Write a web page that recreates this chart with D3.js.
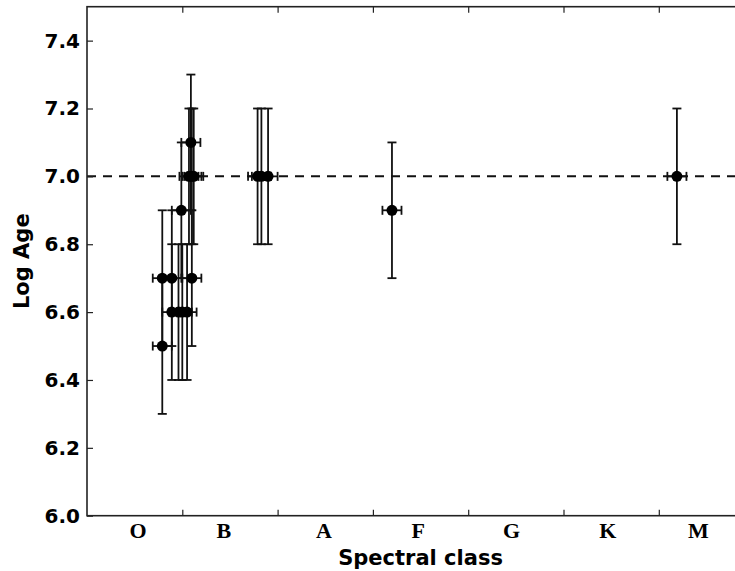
<!DOCTYPE html>
<html>
<head>
<meta charset="utf-8">
<script src="https://cdn.jsdelivr.net/npm/d3@7"></script>
<style>
  html, body { margin: 0; padding: 0; background: #fff; }
  svg { display: block; }
  .ytick text { font-family: "DejaVu Sans", sans-serif; font-weight: bold; font-size: 20px; }
  .xlab text { font-family: "Liberation Serif", "Times New Roman", serif; font-weight: bold; font-size: 22px; }
  .axis-title { font-family: "DejaVu Sans", sans-serif; font-weight: bold; font-size: 21px; }
</style>
</head>
<body>
<div id="chart"></div>
<script>
document.addEventListener('DOMContentLoaded', () => {
    const width = 735;
    const height = 571;

    // spectral classes and where their labels sit along the axis
    const classes = ["O", "B", "A", "F", "G", "K", "M"];
    const classLabelPos = [0.53, 1.43, 2.48, 3.47, 4.45, 5.46, 6.41];
    const classTicks = [1, 2, 3, 4, 5, 6];
    const yTicks = [6.0, 6.2, 6.4, 6.6, 6.8, 7.0, 7.2, 7.4];

    // star data: spectral position, log age and errors
    const specPos = [0.79, 0.79, 0.89, 1.10, 0.99, 0.89, 0.96, 1.00, 1.05, 1.09, 1.07, 1.10, 1.12, 1.79, 1.83, 1.90, 3.20, 6.19];
    const logAge  = [6.5,  6.7,  6.7,  6.7,  6.9,  6.6,  6.6,  6.6,  6.6,  7.1,  7.0,  7.0,  7.0,  7.0,  7.0,  7.0,  6.9,  7.0];
    const ageErr  = [0.2,  0.2,  0.2,  0.2,  0.2,  0.2,  0.2,  0.2,  0.2,  0.2,  0.2,  0.2,  0.2,  0.2,  0.2,  0.2,  0.2,  0.2];
    const specErr = [0.1,  0.1,  0.1,  0.1,  0.1,  0.1,  0.1,  0.1,  0.1,  0.1,  0.1,  0.1,  0.1,  0.1,  0.1,  0.1,  0.1,  0.1];
    const refAge = 7.0;

    const left = 87, top = 6.7, bottom = 515.7, right = 87 + 7 * 95.3;

    const svg = d3.select("#chart")
        .append("svg")
        .attr("width", width)
        .attr("height", height);

    const x = d3.scaleLinear().domain([0, 7]).range([left, right]);
    const y = d3.scaleLinear().domain([6.0, 7.5]).range([bottom, top]);

    const stars = specPos.map((p, i) => ({ x: p, y: logAge[i], ey: ageErr[i], ex: specErr[i] }));

    // reference line
    svg.append("line")
        .attr("x1", x(0)).attr("x2", x(7))
        .attr("y1", y(refAge)).attr("y2", y(refAge))
        .attr("stroke", "#111")
        .attr("stroke-width", 2)
        .attr("stroke-dasharray", "9,7");

    // error bars
    const eb = svg.append("g").attr("stroke", "#111").attr("stroke-width", 1.8);
    stars.forEach(d => {
        const cx = x(d.x), cy = y(d.y);
        const y1 = y(d.y + d.ey), y2 = y(d.y - d.ey);
        const x1 = x(d.x - d.ex), x2 = x(d.x + d.ex);
        eb.append("line").attr("x1", cx).attr("x2", cx).attr("y1", y1).attr("y2", y2);
        eb.append("line").attr("x1", cx - 4.5).attr("x2", cx + 4.5).attr("y1", y1).attr("y2", y1);
        eb.append("line").attr("x1", cx - 4.5).attr("x2", cx + 4.5).attr("y1", y2).attr("y2", y2);
        eb.append("line").attr("x1", x1).attr("x2", x2).attr("y1", cy).attr("y2", cy);
        eb.append("line").attr("x1", x1).attr("x2", x1).attr("y1", cy - 4.5).attr("y2", cy + 4.5);
        eb.append("line").attr("x1", x2).attr("x2", x2).attr("y1", cy - 4.5).attr("y2", cy + 4.5);
    });

    svg.append("g")
        .selectAll("circle")
        .data(stars)
        .enter().append("circle")
        .attr("cx", d => x(d.x))
        .attr("cy", d => y(d.y))
        .attr("r", 5.5)
        .attr("fill", "#000");

    // axes with inward ticks
    const yAxis = svg.append("g")
        .attr("class", "ytick")
        .attr("transform", `translate(${left},0)`)
        .call(d3.axisLeft(y).tickValues(yTicks).tickFormat(d3.format(".1f")).tickSize(-6).tickPadding(7));
    yAxis.select(".domain").remove();
    yAxis.selectAll("line").attr("stroke", "#222").attr("stroke-width", 1.2);
    yAxis.selectAll("text").attr("fill", "#000");

    svg.append("g")
        .attr("transform", `translate(${right},0)`)
        .call(d3.axisRight(y).tickValues(yTicks).tickFormat("").tickSize(-6))
        .call(g => g.select(".domain").remove())
        .selectAll("line").attr("stroke", "#222").attr("stroke-width", 1.2);

    svg.append("g")
        .attr("transform", `translate(0,${bottom})`)
        .call(d3.axisBottom(x).tickValues(classTicks).tickFormat("").tickSize(-6))
        .call(g => g.select(".domain").remove())
        .selectAll("line").attr("stroke", "#222").attr("stroke-width", 1.2);

    svg.append("g")
        .attr("transform", `translate(0,${top})`)
        .call(d3.axisTop(x).tickValues(classTicks).tickFormat("").tickSize(-6))
        .call(g => g.select(".domain").remove())
        .selectAll("line").attr("stroke", "#222").attr("stroke-width", 1.2);

    const xLab = svg.append("g")
        .attr("class", "xlab")
        .attr("transform", `translate(0,${bottom})`)
        .call(d3.axisBottom(x).tickValues(classLabelPos).tickFormat((d, i) => classes[i]).tickSize(0).tickPadding(7));
    xLab.select(".domain").remove();
    xLab.selectAll("text").attr("fill", "#000");

    // frame
    svg.append("rect")
        .attr("x", left).attr("y", top)
        .attr("width", right - left).attr("height", bottom - top)
        .attr("fill", "none")
        .attr("stroke", "#222")
        .attr("stroke-width", 1.6);

    svg.append("text")
        .attr("class", "axis-title")
        .attr("x", (left + right) / 2)
        .attr("y", 565)
        .attr("text-anchor", "middle")
        .text("Spectral class");

    svg.append("text")
        .attr("class", "axis-title")
        .attr("transform", `translate(29,${(top + bottom) / 2}) rotate(-90)`)
        .attr("text-anchor", "middle")
        .text("Log Age");
});
</script>
</body>
</html>
